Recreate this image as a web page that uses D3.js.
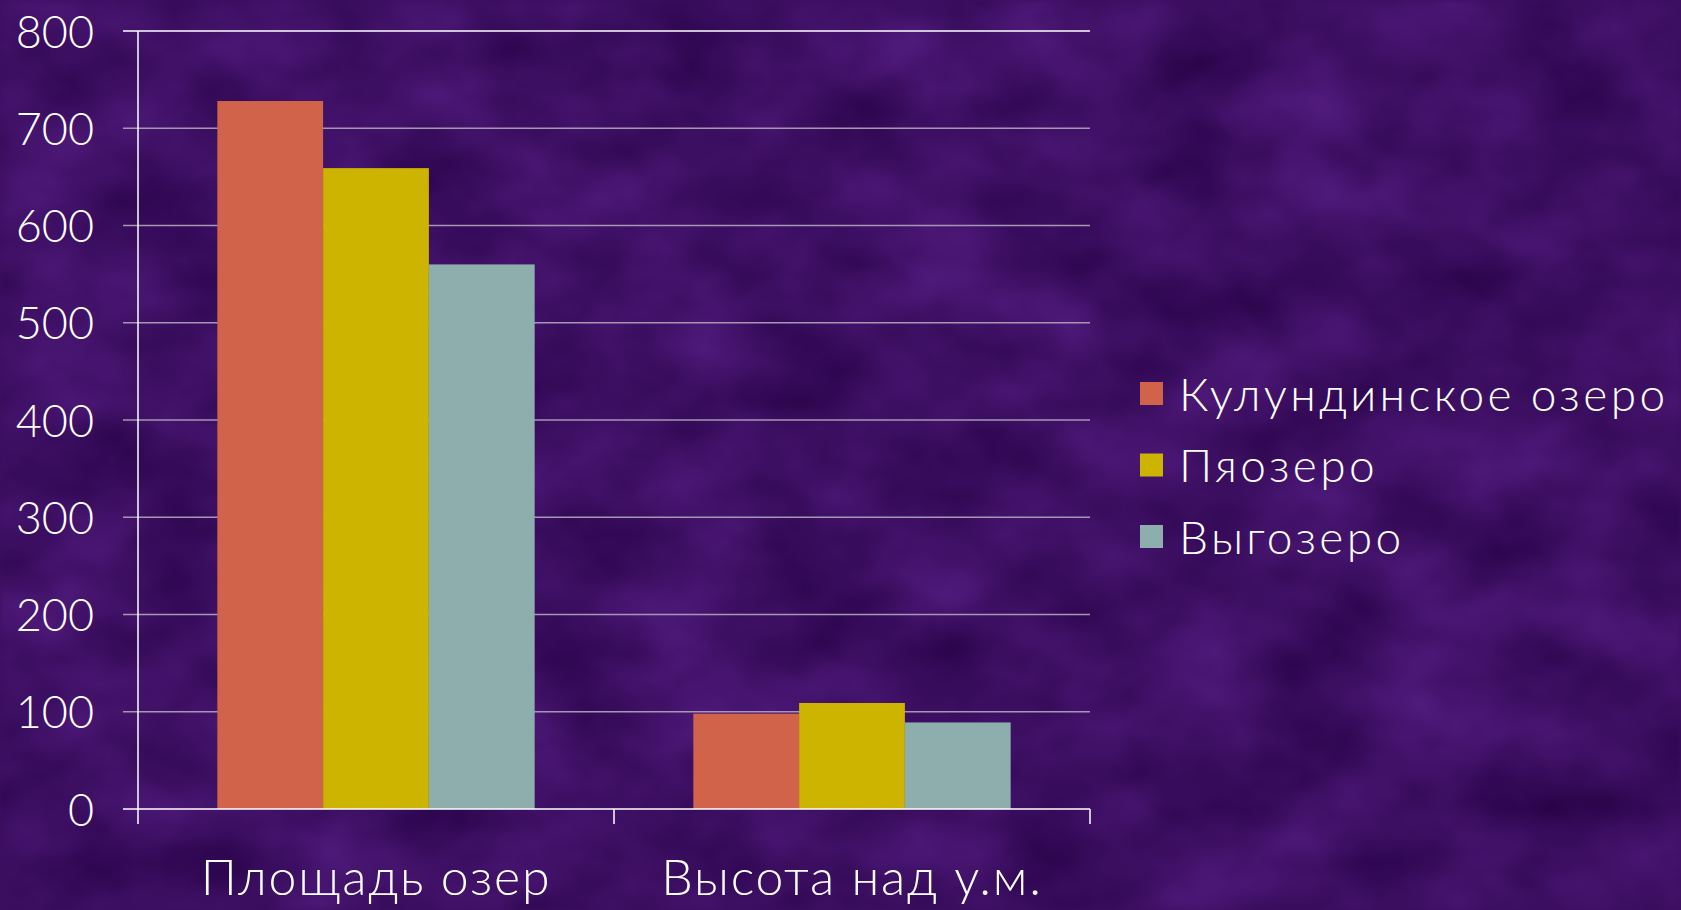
<!DOCTYPE html>
<html>
<head>
<meta charset="utf-8">
<script src="https://cdn.jsdelivr.net/npm/d3@7"></script>
<style>
  html, body { margin: 0; padding: 0; background: #3b0f60; overflow: hidden; }
  text { font-family: Lato, "Noto Sans", sans-serif; font-weight: 300; fill: #fff; }
</style>
</head>
<body>
<div id="chart"></div>
<script>
const categories = ["Площадь озер", "Высота над у.м."];
const seriesNames = ["Кулундинское озеро", "Пяозеро", "Выгозеро"];
const kulunda = [728, 98];
const pyaozero = [659, 109];
const vygozero = [560, 89];
const yTicks = [0, 100, 200, 300, 400, 500, 600, 700, 800];
const colors = ["#d1634a", "#cdb400", "#8eadad"];

const W = 1681, H = 910;
const margin = { top: 31, left: 138, right: 591, bottom: 101 };
const width = W - margin.left - margin.right;
const height = H - margin.top - margin.bottom;

const svg = d3.select("#chart").append("svg")
    .attr("width", W)
    .attr("height", H);

// background texture
const defs = svg.append("defs");
const filt = defs.append("filter")
    .attr("id", "tex")
    .attr("x", 0).attr("y", 0).attr("width", "100%").attr("height", "100%")
    .attr("color-interpolation-filters", "sRGB");
filt.append("feTurbulence")
    .attr("type", "fractalNoise")
    .attr("baseFrequency", "0.008 0.012")
    .attr("numOctaves", 4)
    .attr("seed", 7);
filt.append("feColorMatrix")
    .attr("type", "matrix")
    .attr("values", "0.2 0 0 0 0.14  0.12 0 0 0 0.0  0.26 0 0 0 0.26  0 0 0 0 1");
filt.append("feGaussianBlur").attr("stdDeviation", 3);
svg.append("rect")
    .attr("width", W).attr("height", H)
    .attr("filter", "url(#tex)");

const values = [kulunda, pyaozero, vygozero];
const data = categories.map((c, i) => ({
  cat: c,
  vals: seriesNames.map((s, j) => ({ name: s, value: values[j][i], idx: j }))
}));

const x0 = d3.scaleBand().domain(categories).range([0, width]);
const groupPad = x0.bandwidth() / (3 + 1.5) * 0.75;
const x1 = d3.scaleBand().domain(seriesNames)
    .range([groupPad, x0.bandwidth() - groupPad]);
const y = d3.scaleLinear().domain([0, 800]).range([height, 0]);

const g = svg.append("g")
    .attr("transform", `translate(${margin.left}, ${margin.top})`);

// gridlines (with outer tick part)
g.selectAll(".grid")
    .data(yTicks.slice(1, -1))
    .join("line")
    .attr("x1", -15)
    .attr("x2", width)
    .attr("y1", d => y(d))
    .attr("y2", d => y(d))
    .attr("stroke", "#a596b4")
    .attr("stroke-width", 1.5);

g.append("line")
    .attr("x1", -15).attr("x2", width)
    .attr("y1", y(800)).attr("y2", y(800))
    .attr("stroke", "#fff").attr("stroke-width", 1.5);

// bars
const groups = g.selectAll(".grp")
    .data(data)
    .join("g")
    .attr("transform", d => `translate(${x0(d.cat)}, 0)`);

groups.selectAll("rect")
    .data(d => d.vals)
    .join("rect")
    .attr("x", d => x1(d.name))
    .attr("width", x1.bandwidth())
    .attr("y", d => y(d.value))
    .attr("height", d => height - y(d.value))
    .attr("fill", d => colors[d.idx]);

// y axis
g.append("g")
    .call(d3.axisLeft(y)
        .tickValues(yTicks)
        .tickSize(15)
        .tickPadding(29))
    .call(ax => ax.selectAll(".tick line").attr("stroke", "none"))
    .call(ax => ax.select(".domain").attr("stroke", "#fff").attr("stroke-width", 1.5).attr("d", `M0,${y(800)}V${height + 15}`))
    .selectAll(".tick text")
    .attr("fill", "#fff")
    .style("font-size", "45px")
    .style("font-family", "Lato, 'Noto Sans', sans-serif")
    .style("font-weight", 300)
    .attr("dy", "0.36em");

// x axis
g.append("line")
    .attr("x1", -15).attr("x2", width)
    .attr("y1", height).attr("y2", height)
    .attr("stroke", "#fff").attr("stroke-width", 1.5);

g.selectAll(".xtick")
    .data(categories.slice(1).map(c => x0(c)).concat([width]))
    .join("line")
    .attr("x1", d => d).attr("x2", d => d)
    .attr("y1", height).attr("y2", height + 15)
    .attr("stroke", "#fff").attr("stroke-width", 1.5);

g.selectAll(".xlab")
    .data(categories)
    .join("text")
    .attr("x", d => x0(d) + x0.bandwidth() / 2)
    .attr("y", height + 86)
    .attr("text-anchor", "middle")
    .style("font-size", "50px")
    .style("letter-spacing", "1.8px")
    .text(d => d);

// legend
const legend = svg.append("g")
    .attr("transform", "translate(1140, 394)");
const items = legend.selectAll("g")
    .data(seriesNames)
    .join("g")
    .attr("transform", (d, i) => `translate(0, ${i * 71.5})`);
items.append("rect")
    .attr("x", 0).attr("y", -12)
    .attr("width", 23).attr("height", 23)
    .attr("fill", (d, i) => colors[i]);
items.append("text")
    .attr("x", 39)
    .attr("dy", "0.36em")
    .style("font-size", "46px")
    .style("letter-spacing", "3.4px")
    .text(d => d);
</script>
</body>
</html>
